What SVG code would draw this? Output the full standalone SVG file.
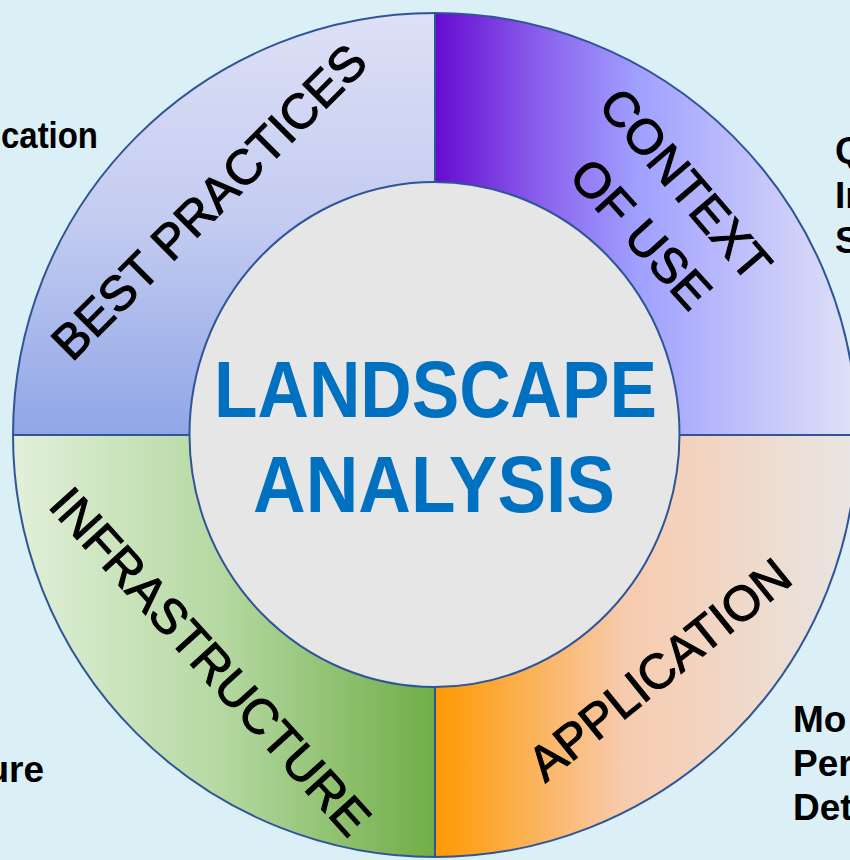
<svg xmlns="http://www.w3.org/2000/svg" width="850" height="860" viewBox="0 0 850 860">
  <defs>
    <linearGradient id="gTL" gradientUnits="userSpaceOnUse" x1="0" y1="13" x2="0" y2="435">
      <stop offset="0" stop-color="#dde0f6"/>
      <stop offset="0.5" stop-color="#c3cbf0"/>
      <stop offset="1" stop-color="#90a6e7"/>
    </linearGradient>
    <linearGradient id="gTR" gradientUnits="userSpaceOnUse" x1="435" y1="0" x2="857" y2="0">
      <stop offset="0" stop-color="#660ad0"/>
      <stop offset="0.25" stop-color="#8a60ec"/>
      <stop offset="0.48" stop-color="#a0a0ff"/>
      <stop offset="1" stop-color="#e0e2f6"/>
    </linearGradient>
    <linearGradient id="gBL" gradientUnits="userSpaceOnUse" x1="13" y1="0" x2="435" y2="0">
      <stop offset="0" stop-color="#e2f0da"/>
      <stop offset="0.5" stop-color="#b4d8a0"/>
      <stop offset="1" stop-color="#70ad47"/>
    </linearGradient>
    <linearGradient id="gBR" gradientUnits="userSpaceOnUse" x1="435" y1="0" x2="857" y2="0">
      <stop offset="0" stop-color="#ff9900"/>
      <stop offset="0.45" stop-color="#f7cbae"/>
      <stop offset="1" stop-color="#e8e6e4"/>
    </linearGradient>
    <style>
      .seg { stroke: none; }
      .edge { fill: none; stroke: #2f5597; stroke-width: 2; }
      .ring { font-family: "Liberation Sans", Arial, sans-serif; font-size: 49px; fill: #000; stroke: #000; stroke-width: 1.1; text-anchor: middle; }
      .side { font-family: "Liberation Sans", Arial, sans-serif; font-size: 37px; font-weight: bold; fill: #000; }
      .title { font-family: "Liberation Sans", Arial, sans-serif; font-size: 80px; font-weight: bold; fill: #0070c0; text-anchor: middle; }
    </style>
  </defs>

  <rect id="background" x="0" y="0" width="850" height="860" fill="#dbeff7"/>

  <g id="side-labels">
    <text class="side" x="1" y="148" textLength="97" lengthAdjust="spacingAndGlyphs">cation</text>
    <text class="side" x="44" y="782" text-anchor="end">ure</text>
    <text class="side" x="835" y="163">Q</text>
    <text class="side" x="835" y="208">In</text>
    <text class="side" x="835" y="253">S</text>
    <text class="side" x="793" y="732">Mo</text>
    <text class="side" x="793" y="776">Per</text>
    <text class="side" x="793" y="820">Det</text>
  </g>

  <g id="best-practices">
    <path class="seg" fill="url(#gTL)" d="M435,435 L13,435 A422,422 0 0 1 435,13 Z"/>
  </g>
  <g id="context-of-use">
    <path class="seg" fill="url(#gTR)" d="M435,435 L435,13 A422,422 0 0 1 857,435 Z"/>
  </g>
  <g id="application">
    <path class="seg" fill="url(#gBR)" d="M435,435 L857,435 A422,422 0 0 1 435,857 Z"/>
  </g>
  <g id="infrastructure">
    <path class="seg" fill="url(#gBL)" d="M435,435 L435,857 A422,422 0 0 1 13,435 Z"/>
  </g>

  <g id="dividers">
    <circle class="edge" cx="435" cy="435" r="422"/>
    <line class="edge" x1="435" y1="13" x2="435" y2="857"/>
    <line class="edge" x1="13" y1="435" x2="857" y2="435"/>
  </g>

  <g id="ring-labels">
    <text class="ring" transform="translate(208.5,201.5) rotate(-45)" y="17.5">BEST PRACTICES</text>
    <text class="ring" transform="translate(686,184) rotate(49.5)" y="17.5">CONTEXT</text>
    <text class="ring" transform="translate(641.5,233.5) rotate(47.8)" y="17.5">OF USE</text>
    <text class="ring" transform="translate(659,669) rotate(-38.9)" y="17.5">APPLICATION</text>
    <text class="ring" transform="translate(210.7,661) rotate(47.8)" y="17.5">INFRASTRUCTURE</text>
  </g>

  <g id="landscape-analysis">
    <ellipse cx="434.5" cy="434.5" rx="245" ry="252.5" fill="#e6e6e6" stroke="#2f5597" stroke-width="2"/>
    <text class="title" x="435.5" y="417" textLength="443" lengthAdjust="spacingAndGlyphs">LANDSCAPE</text>
    <text class="title" x="434" y="512" textLength="362" lengthAdjust="spacingAndGlyphs">ANALYSIS</text>
  </g>
</svg>
